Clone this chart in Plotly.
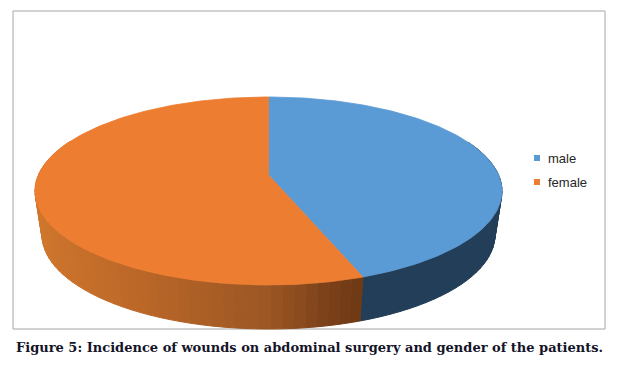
import numpy as np
import plotly.graph_objects as go

# ---- data ----
categories = ["male", "female"]
values = [44.4, 55.6]
top_colors = ["#5B9BD5", "#ED7D31"]
caption = "Figure 5: Incidence of wounds on abdominal surgery and gender of the patients."

# ---- 3D pie projection parameters (layout, in window pixels) ----
XC, YC = 268.5, 175.0   # pie centre on screen
A, B = 91.3, 230.1      # vertical / horizontal radius
K = 0.17                # perspective strength
D = 44.0                # thickness
S = 0.97                # bottom-face shrink

# page body has an 8px margin: map window pixels onto the axes
OFF = 8
FIG_W, FIG_H = 622 - 2 * OFF, 366 - 2 * OFF

def proj(t, bottom=False):
    t = np.asarray(t, dtype=float)
    u = np.sin(t)
    v = -np.cos(t)
    f = 1.0 / (1.0 - K * v)
    X = XC + B * u * f
    Y = YC + A * v * f
    if bottom:
        X = XC + S * (X - XC)
        Y = Y + D
    return X, Y

def lerp_color(stops, x):
    xs = [s[0] for s in stops]
    x = min(max(x, xs[0]), xs[-1])
    for i in range(len(stops) - 1):
        x0, c0 = stops[i]
        x1, c1 = stops[i + 1]
        if x0 <= x <= x1:
            r = (x - x0) / (x1 - x0) if x1 > x0 else 0
            c = [int(round(c0[j] + (c1[j] - c0[j]) * r)) for j in range(3)]
            return "rgb(%d,%d,%d)" % tuple(c)
    c = stops[-1][1]
    return "rgb(%d,%d,%d)" % tuple(c)

side_stops = {
    "female": [(-1.0, (210, 120, 46)), (-0.5, (188, 104, 40)), (0.0, (156, 86, 36)),
               (0.2, (126, 66, 26)), (0.4, (104, 53, 18)), (1.0, (104, 53, 18))],
    "male": [(-1.0, (35, 62, 88)), (1.0, (35, 62, 88))],
}

fractions = np.array(values, dtype=float) / np.sum(values)
ends = np.cumsum(fractions) * 2 * np.pi
starts = np.concatenate([[0.0], ends[:-1]])

fig = go.Figure()

# side strips
strips = []
for name, t0, t1 in zip(categories, starts, ends):
    n = max(2, int(np.ceil((t1 - t0) / np.radians(2.5))))
    ts = np.linspace(t0, t1, n + 1)
    for a, b in zip(ts[:-1], ts[1:]):
        tm = 0.5 * (a + b)
        vm = -np.cos(tm)
        if vm < -0.4:
            continue
        tt = np.array([a, b])
        xt, yt = proj(tt)
        xb, yb = proj(tt[::-1], bottom=True)
        col = lerp_color(side_stops[name], np.sin(tm))
        strips.append((vm, np.concatenate([xt, xb, xt[:1]]), np.concatenate([yt, yb, yt[:1]]), col))
strips.sort(key=lambda s: s[0])
for vm, xs, ys, col in strips:
    fig.add_trace(go.Scatter(x=xs, y=ys, mode="lines", fill="toself", fillcolor=col,
                             line=dict(color=col, width=1), hoverinfo="skip", showlegend=False))

# top faces
for name, t0, t1, col in zip(categories, starts, ends, top_colors):
    ts = np.linspace(t0, t1, 200)
    xr, yr = proj(ts)
    xs = np.concatenate([[XC], xr, [XC]])
    ys = np.concatenate([[YC], yr, [YC]])
    fig.add_trace(go.Scatter(x=xs, y=ys, mode="lines", fill="toself", fillcolor=col,
                             line=dict(color=col, width=0.8), hoverinfo="skip",
                             name=name, showlegend=False))

# legend (Excel style: small square + label)
LEG_X, LEG_Y0, LEG_DY = 537, 158, 24
for i, (name, col) in enumerate(zip(categories, top_colors)):
    yy = LEG_Y0 + i * LEG_DY
    fig.add_shape(type="rect", x0=LEG_X - 3, x1=LEG_X + 3, y0=yy - 3, y1=yy + 3,
                  xref="x", yref="y", fillcolor=col, line=dict(width=0))
    fig.add_annotation(text=name, x=LEG_X + 9, y=yy, xref="x", yref="y",
                       showarrow=False, xanchor="left", yanchor="middle",
                       font=dict(family="Liberation Sans", size=13, color="#262626"))

fig.add_shape(type="rect", x0=13, y0=11, x1=605, y1=329, xref="x", yref="y",
              line=dict(color="#a6a6a6", width=1), layer="below")

fig.add_annotation(text="<b>" + caption + "</b>", x=309, y=347, xref="x", yref="y",
                   showarrow=False, xanchor="center", yanchor="middle",
                   font=dict(family="DejaVu Serif", size=13, color="#141428"))

fig.update_layout(
    width=FIG_W, height=FIG_H,
    margin=dict(l=0, r=0, t=0, b=0),
    paper_bgcolor="white", plot_bgcolor="white",
    xaxis=dict(range=[OFF, OFF + FIG_W], visible=False, fixedrange=True),
    yaxis=dict(range=[OFF + FIG_H, OFF], visible=False, fixedrange=True),
    showlegend=False,
)

fig.write_html("out.html")
